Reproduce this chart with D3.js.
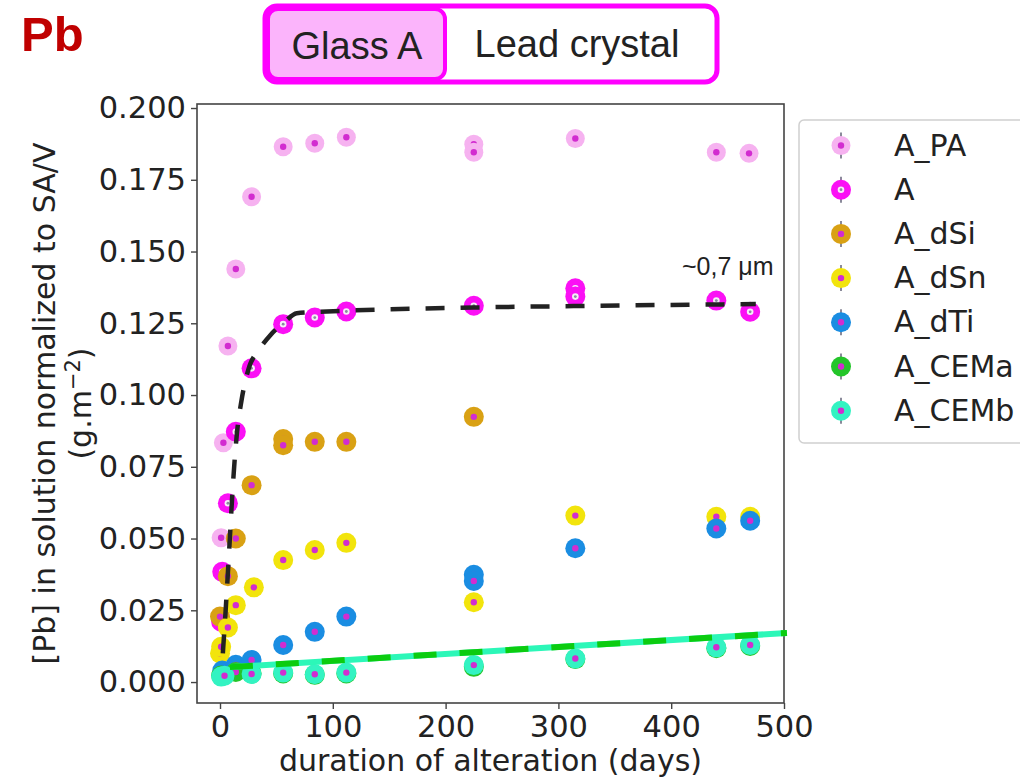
<!DOCTYPE html>
<html>
<head>
<meta charset="utf-8">
<script src="https://cdn.jsdelivr.net/npm/d3@7"></script>
<style>
  body { margin: 0; background: #fff; }
  svg { display: block; }
  .tick text { font-family: "DejaVu Sans", sans-serif; font-size: 30.5px; fill: #222; }
</style>
</head>
<body>
<svg id="chart" width="1020" height="781"></svg>
<script>
// series names, in drawing order
var seriesNames = ["A_PA", "A", "A_dSi", "A_dSn", "A_dTi", "A_CEMa", "A_CEMb"];
var seriesColors = ["#f6b2f0", "#fb10f5", "#d9a114", "#f2e40c", "#1a8de2", "#24c52a", "#33f3c2"];

// values (days, Pb g.m-2)
var daysPA = [1, 3, 7, 14, 28, 56, 84, 112, 225, 225, 315, 440, 469];
var valsPA = [0.0503, 0.0834, 0.1171, 0.1439, 0.1691, 0.1865, 0.1877, 0.1898, 0.1874, 0.1846, 0.1894, 0.1846, 0.1842];

var daysA = [1, 2, 7, 14, 28, 56, 84, 112, 225, 315, 315, 440, 470];
var valsA = [0.021, 0.0384, 0.0623, 0.0872, 0.1093, 0.1247, 0.1270, 0.1291, 0.1311, 0.1372, 0.1343, 0.1329, 0.1290];

var daysDSi = [0, 7, 14, 28, 56, 56, 84, 112, 225];
var valsDSi = [0.0228, 0.0369, 0.0500, 0.0686, 0.0847, 0.0825, 0.0837, 0.0837, 0.0924];

var daysDSn = [0, 1, 7, 14, 30, 56, 84, 112, 225, 315, 440, 470];
var valsDSn = [0.0100, 0.0123, 0.0190, 0.0268, 0.0330, 0.0425, 0.0460, 0.0485, 0.0278, 0.0580, 0.0576, 0.0576];

var daysDTi = [2, 14, 28, 56, 84, 112, 225, 225, 315, 440, 470];
var valsDTi = [0.0040, 0.0060, 0.0077, 0.0129, 0.0175, 0.0228, 0.0374, 0.0352, 0.0466, 0.0535, 0.0562];

var daysCEMa = [1, 14, 28, 56, 84, 112, 225, 315, 440, 470];
var valsCEMa = [0.0023, 0.0035, 0.0030, 0.0030, 0.0025, 0.0030, 0.0053, 0.0080, 0.0118, 0.0126];

var daysCEMb = [1, 4, 28, 56, 84, 112, 225, 315, 440, 470];
var valsCEMb = [0.0019, 0.0022, 0.0028, 0.0033, 0.0027, 0.0033, 0.0059, 0.0082, 0.0121, 0.0129];

// fitted curve (black dashes) and linear trend (green / teal)
var fitDays = [2.5, 5, 8, 11, 15, 19, 25, 35, 45, 57, 68, 88, 112, 225, 315, 475];
var fitVals = [0.010, 0.025, 0.045, 0.066, 0.0867, 0.098, 0.1087, 0.116, 0.121, 0.1254, 0.1285, 0.129, 0.1294, 0.1305, 0.131, 0.1317];
var trendDays = [8.8, 502.6];
var trendVals = [0.0052, 0.0171];

var xTicks = [0, 100, 200, 300, 400, 500];
var yTicks = [0, 0.025, 0.05, 0.075, 0.1, 0.125, 0.15, 0.175, 0.2];

var seriesDays = [daysPA, daysA, daysDSi, daysDSn, daysDTi, daysCEMa, daysCEMb];
var seriesVals = [valsPA, valsA, valsDSi, valsDSn, valsDTi, valsCEMa, valsCEMb];

var svg = d3.select("#chart");
var plotLeft = 197, plotRight = 784, plotTop = 104, plotBottom = 703;

var x = d3.scaleLinear().domain([-20.4, 500]).range([plotLeft, plotRight]);
var y = d3.scaleLinear().domain([-0.0073, 0.2014]).range([plotBottom, plotTop]);

// frame
svg.append("rect")
    .attr("x", plotLeft).attr("y", plotTop)
    .attr("width", plotRight - plotLeft).attr("height", plotBottom - plotTop)
    .attr("fill", "none").attr("stroke", "#444").attr("stroke-width", 1.6);

// axes
var xAxis = svg.append("g")
    .attr("transform", "translate(0," + plotBottom + ")")
    .call(d3.axisBottom(x).tickValues(xTicks).tickSize(6).tickSizeOuter(0).tickPadding(6));
xAxis.select(".domain").remove();
xAxis.selectAll("line").attr("stroke", "#444").attr("stroke-width", 1.4);

var yAxis = svg.append("g")
    .attr("transform", "translate(" + plotLeft + ",0)")
    .call(d3.axisLeft(y).tickValues(yTicks).tickSize(6).tickSizeOuter(0).tickPadding(5)
      .tickFormat(d3.format(".3f")));
yAxis.select(".domain").remove();
yAxis.selectAll("line").attr("stroke", "#444").attr("stroke-width", 1.4);

// axis labels
svg.append("text")
    .attr("x", (plotLeft + plotRight) / 2).attr("y", 771)
    .attr("text-anchor", "middle")
    .style("font-family", "DejaVu Sans").style("font-size", "30px").style("fill", "#222")
    .text("duration of alteration (days)");

var yl = svg.append("g").attr("transform", "translate(0," + (plotTop + plotBottom) / 2 + ") rotate(-90)");
yl.append("text")
    .attr("x", 0).attr("y", 55)
    .attr("text-anchor", "middle")
    .style("font-family", "DejaVu Sans").style("font-size", "30px").style("fill", "#222")
    .text("[Pb] in solution normalized to SA/V");
var yl2 = yl.append("text")
    .attr("x", 0).attr("y", 91)
    .attr("text-anchor", "middle")
    .style("font-family", "DejaVu Sans").style("font-size", "30px").style("fill", "#222");
yl2.append("tspan").text("(g.m");
yl2.append("tspan").attr("dy", -11).style("font-size", "21px").text("\u22122");
yl2.append("tspan").attr("dy", 11).text(")");

// points
function drawMarker(g, cx, cy, i) {
  g.append("circle").attr("cx", cx).attr("cy", cy)
      .attr("r", i == 0 ? 9.5 : 10).attr("fill", seriesColors[i]);
  if (i == 1) {
    g.append("circle").attr("cx", cx).attr("cy", cy).attr("r", 3.3).attr("fill", "#f4eef6");
    g.append("circle").attr("cx", cx).attr("cy", cy).attr("r", 1.4).attr("fill", "#8a8aa0");
  } else {
    g.append("circle").attr("cx", cx).attr("cy", cy).attr("r", 3.2).attr("fill", "#d22cd0");
  }
}

var pts = svg.append("g");
for (var i = 0; i < seriesNames.length; i++) {
  var data = d3.zip(seriesDays[i], seriesVals[i]);
  var g = pts.append("g").attr("class", "series-" + seriesNames[i]);
  data.forEach(function(d) { drawMarker(g, x(d[0]), y(d[1]), i); });
}

// fit curve
var line = d3.line().x(function(d) { return x(d[0]); }).y(function(d) { return y(d[1]); });
svg.append("path")
    .datum(d3.zip(fitDays, fitVals))
    .attr("d", line.curve(d3.curveMonotoneX))
    .attr("fill", "none").attr("stroke", "#222").attr("stroke-width", 4.5)
    .attr("stroke-dasharray", "19,16");

// linear trend: teal under green dashes
var trend = d3.zip(trendDays, trendVals);
svg.append("path").datum(trend)
    .attr("d", d3.line().x(function(d) { return x(d[0]); }).y(function(d) { return y(d[1]); }))
    .attr("fill", "none").attr("stroke", "#2cf7b8").attr("stroke-width", 6);
svg.append("path").datum(trend)
    .attr("d", d3.line().x(function(d) { return x(d[0]); }).y(function(d) { return y(d[1]); }))
    .attr("fill", "none").attr("stroke", "#0ccc10").attr("stroke-width", 6)
    .attr("stroke-dasharray", "23,23").attr("stroke-dashoffset", 0);

svg.append("text")
    .attr("x", 682).attr("y", 275)
    .style("font-family", "Liberation Sans, Arial").style("font-size", "25px").style("fill", "#222")
    .text("~0,7 \u03bcm");

// legend
var legend = svg.append("g");
legend.append("rect")
    .attr("x", 799).attr("y", 120).attr("width", 240).attr("height", 323)
    .attr("rx", 5).attr("fill", "#fff").attr("stroke", "#d0d0d0").attr("stroke-width", 1.5);
seriesNames.forEach(function(name, i) {
  var ly = 145.5 + i * 44.2;
  legend.append("line")
      .attr("x1", 841).attr("x2", 841).attr("y1", ly - 13).attr("y2", ly + 13)
      .attr("stroke", "#8a8a9a").attr("stroke-width", 2);
  drawMarker(legend, 841, ly, i);
  legend.append("text")
      .attr("x", 894).attr("y", ly + 10)
      .style("font-family", "DejaVu Sans").style("font-size", "30px").style("fill", "#222")
      .text(name);
});

// header
svg.append("text")
    .attr("x", 21).attr("y", 51)
    .style("font-family", "Liberation Sans, Arial").style("font-weight", "bold")
    .style("font-size", "49px").style("fill", "#c00000")
    .text("Pb");

svg.append("rect")
    .attr("x", 265).attr("y", 6).attr("width", 452).attr("height", 76)
    .attr("rx", 12).attr("fill", "#fff").attr("stroke", "#ff00ff").attr("stroke-width", 5);
svg.append("rect")
    .attr("x", 268).attr("y", 9).attr("width", 177).attr("height", 70)
    .attr("rx", 10).attr("fill", "#fbb4fb").attr("stroke", "#ff00ff").attr("stroke-width", 4);
svg.append("text")
    .attr("x", 357).attr("y", 59).attr("text-anchor", "middle")
    .style("font-family", "Liberation Sans, Arial").style("font-size", "38px").style("fill", "#222")
    .text("Glass A");
svg.append("text")
    .attr("x", 577).attr("y", 57).attr("text-anchor", "middle")
    .style("font-family", "Liberation Sans, Arial").style("font-size", "38px").style("fill", "#222")
    .text("Lead crystal");
</script>
</body>
</html>
